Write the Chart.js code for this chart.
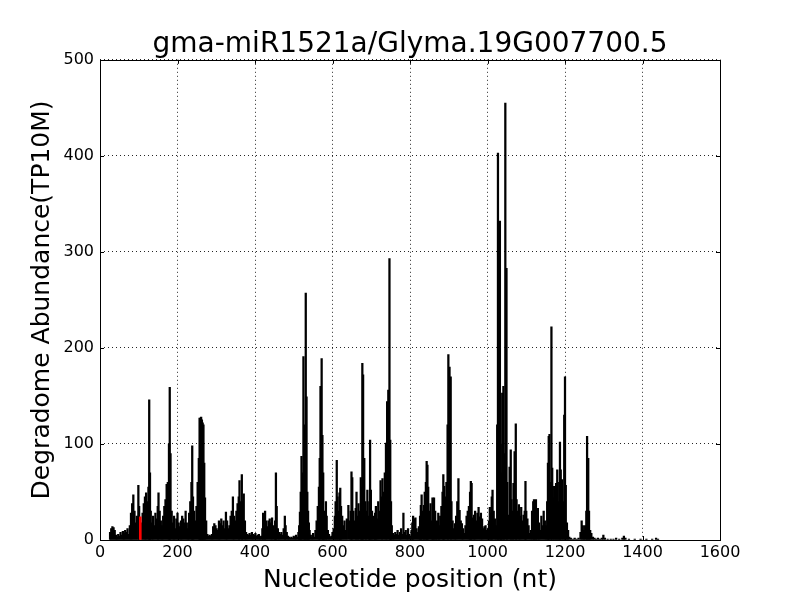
<!DOCTYPE html>
<html>
<head>
<meta charset="utf-8">
<script src="https://cdn.jsdelivr.net/npm/chart.js@4"></script>
<style>
  body { margin: 0; background: #fff; }
  canvas { display: block; }
</style>
</head>
<body>
<canvas id="degradomeChart" width="800" height="600"></canvas>
<script>
// nucleotide positions and abundance (TP10M)
const positions = [
  26, 29, 32, 35, 38, 41, 44, 47, 50, 53, 56, 59, 62, 65, 68, 71, 74, 77, 80, 83,
  86, 89, 92, 95, 99, 101, 107, 110, 113, 116, 119, 122, 125, 127, 129, 131, 134, 137, 140, 143,
  146, 149, 151, 154, 157, 160, 163, 166, 169, 172, 175, 178, 180, 182, 185, 188, 191, 194, 197, 200,
  203, 206, 209, 212, 215, 218, 221, 224, 227, 230, 233, 236, 238, 240, 243, 246, 249, 252, 255, 257,
  259, 261, 263, 265, 267, 269, 271, 274, 277, 280, 283, 286, 289, 292, 295, 298, 301, 304, 307, 310,
  313, 316, 319, 322, 325, 328, 331, 334, 337, 340, 343, 346, 349, 352, 355, 358, 360, 363, 366, 368,
  371, 374, 377, 380, 383, 386, 389, 392, 395, 398, 401, 404, 407, 410, 413, 416, 419, 421, 424, 426,
  429, 432, 435, 438, 441, 444, 447, 450, 452, 454, 456, 459, 462, 465, 468, 471, 474, 477, 479, 482,
  485, 488, 491, 494, 497, 500, 503, 506, 509, 512, 514, 516, 518, 520, 522, 525, 527, 529, 531, 533,
  535, 537, 539, 541, 544, 547, 550, 553, 556, 559, 562, 565, 567, 569, 572, 574, 576, 578, 580, 583,
  585, 588, 591, 594, 597, 600, 603, 606, 608, 611, 613, 616, 618, 620, 622, 625, 628, 631, 634, 637,
  641, 644, 647, 649, 651, 654, 657, 660, 662, 665, 667, 670, 673, 675, 677, 679, 682, 685, 687, 690,
  693, 695, 697, 699, 702, 705, 708, 710, 712, 715, 718, 721, 724, 727, 729, 732, 735, 738, 741, 744,
  747, 749, 751, 753, 756, 759, 762, 765, 768, 771, 774, 777, 780, 783, 786, 789, 792, 795, 798, 801,
  804, 806, 808, 811, 814, 817, 820, 823, 826, 828, 830, 833, 836, 838, 841, 843, 845, 847, 850, 853,
  856, 858, 860, 862, 865, 867, 870, 873, 875, 878, 881, 884, 886, 888, 891, 894, 897, 899, 902, 905,
  907, 910, 913, 916, 919, 922, 925, 928, 931, 934, 937, 940, 943, 946, 949, 952, 955, 957, 959, 962,
  965, 968, 971, 974, 977, 980, 983, 986, 989, 992, 995, 998, 1001, 1004, 1006, 1009, 1011, 1013, 1016, 1019,
  1022, 1025, 1027, 1029, 1032, 1034, 1036, 1038, 1041, 1043, 1046, 1049, 1051, 1054, 1057, 1060, 1062, 1065, 1067, 1070,
  1073, 1075, 1078, 1081, 1084, 1087, 1090, 1093, 1096, 1098, 1100, 1103, 1106, 1109, 1112, 1115, 1118, 1120, 1122, 1125,
  1127, 1130, 1133, 1136, 1139, 1142, 1145, 1148, 1151, 1154, 1156, 1158, 1160, 1163, 1165, 1167, 1170, 1172, 1175, 1177,
  1180, 1182, 1185, 1187, 1189, 1192, 1195, 1198, 1200, 1202, 1205, 1208, 1211, 1215, 1220, 1225, 1230, 1235, 1240, 1243,
  1246, 1249, 1252, 1255, 1257, 1260, 1262, 1265, 1268, 1272, 1276, 1280, 1285, 1290, 1295, 1299, 1303, 1310, 1318, 1325,
  1332, 1340, 1348, 1352, 1356, 1365, 1380, 1395, 1410, 1425, 1435, 1440
];
const abundance = [
  8, 12, 14, 13, 10, 5, 3, 6, 4, 8, 5, 9, 7, 10, 8, 12, 6, 15, 28, 38,
  47, 30, 18, 25, 57, 35, 18, 28, 38, 45, 49, 40, 55, 146, 70, 30, 18, 25, 15, 28,
  22, 35, 49, 30, 20, 15, 25, 35, 42, 58, 60, 100, 159, 90, 30, 18, 25, 12, 22, 28,
  18, 14, 20, 25, 22, 18, 30, 18, 12, 28, 40, 60, 98, 45, 30, 20, 35, 60, 85, 127,
  127, 128, 125, 122, 120, 80, 44, 20, 6, 4, 5, 4, 6, 14, 17, 15, 12, 10, 20, 17,
  22, 15, 20, 12, 29, 20, 12, 15, 25, 30, 45, 25, 20, 30, 38, 45, 62, 40, 68, 40,
  48, 20, 8, 6, 5, 7, 5, 8, 6, 5, 7, 4, 5, 6, 3, 4, 12, 28, 22, 30,
  20, 14, 20, 22, 18, 23, 15, 10, 20, 70, 35, 12, 8, 6, 8, 5, 12, 25, 15, 8,
  4, 3, 2, 3, 2, 4, 3, 5, 3, 8, 15, 29, 50, 87, 70, 191, 120, 90, 257, 149,
  50, 30, 18, 10, 5, 3, 7, 3, 10, 20, 35, 55, 85, 160, 189, 109, 70, 30, 22, 40,
  25, 10, 6, 3, 4, 8, 12, 25, 40, 83, 45, 30, 49, 54, 35, 25, 15, 20, 10, 22,
  36, 20, 30, 71, 65, 30, 20, 33, 50, 25, 38, 30, 65, 55, 184, 172, 85, 40, 30, 52,
  25, 40, 104, 52, 30, 25, 20, 28, 35, 22, 40, 30, 62, 45, 64, 50, 70, 101, 144, 156,
  293, 104, 40, 15, 7, 5, 8, 6, 10, 5, 8, 12, 6, 28, 8, 10, 5, 12, 6, 4,
  10, 18, 25, 22, 23, 12, 8, 14, 25, 36, 47, 30, 36, 50, 60, 82, 78, 55, 30, 38,
  20, 44, 30, 44, 30, 15, 20, 28, 15, 25, 35, 50, 68, 56, 45, 60, 120, 193, 180, 170,
  40, 20, 12, 17, 25, 40, 64, 31, 20, 17, 12, 7, 15, 25, 30, 35, 50, 61, 59, 23,
  26, 30, 20, 28, 34, 24, 28, 22, 12, 14, 15, 10, 12, 20, 34, 28, 45, 52, 30, 22,
  15, 120, 403, 257, 332, 100, 70, 153, 160, 90, 455, 283, 60, 26, 76, 94, 42, 30, 59, 92,
  121, 42, 30, 37, 25, 34, 20, 26, 30, 61, 30, 22, 15, 7, 10, 30, 40, 42, 25, 42,
  22, 33, 18, 10, 25, 15, 30, 20, 15, 40, 80, 108, 110, 60, 222, 75, 44, 56, 54, 59,
  73, 40, 60, 102, 73, 63, 40, 130, 170, 57, 18, 10, 3, 2, 1, 2, 1, 2, 8, 20,
  15, 10, 15, 30, 108, 85, 30, 10, 7, 3, 2, 1, 2, 1, 2, 5, 2, 1, 1, 1,
  2, 1, 2, 4, 2, 1, 1, 1, 1, 1, 2, 1
];
// miRNA cleavage site (red)
const cleavePositions = [104];
const cleaveAbundance = [24];

const xTicks = [0, 200, 400, 600, 800, 1000, 1200, 1400, 1600];
const yTicks = [0, 100, 200, 300, 400, 500];

const FONT = "'DejaVu Sans', sans-serif";

// matplotlib style frame with inward ticks
const frameTicks = {
    id: "frameTicks",
    afterDraw(chart) {
        const { ctx, chartArea: a, scales } = chart;
        ctx.save();
        ctx.strokeStyle = "#000";
        ctx.lineWidth = 1;
        ctx.beginPath();
        xTicks.forEach((v) => {
            const px = Math.round(scales.x.getPixelForValue(v)) + 0.5;
            ctx.moveTo(px, a.bottom);
            ctx.lineTo(px, a.bottom - 4);
            ctx.moveTo(px, a.top);
            ctx.lineTo(px, a.top + 4);
        });
        yTicks.forEach((v) => {
            const py = Math.round(scales.y.getPixelForValue(v)) + 0.5;
            ctx.moveTo(a.left, py);
            ctx.lineTo(a.left + 4, py);
            ctx.moveTo(a.right, py);
            ctx.lineTo(a.right - 4, py);
        });
        ctx.stroke();
        ctx.strokeRect(
            Math.round(a.left) + 0.5,
            Math.round(a.top) + 0.5,
            Math.round(a.right - a.left),
            Math.round(a.bottom - a.top)
        );
        ctx.restore();
    },
};

const ctx = document.getElementById("degradomeChart").getContext("2d");
new Chart(ctx, {
    type: "bar",
    data: {
        datasets: [
            {
                label: "Degradome",
                data: positions.map((p, i) => ({ x: p, y: abundance[i] })),
                backgroundColor: "#000",
                barThickness: 1.6,
                order: 2,
            },
            {
                label: "Cleavage site",
                data: cleavePositions.map((p, i) => ({ x: p, y: cleaveAbundance[i] })),
                backgroundColor: "#ff0000",
                barThickness: 2,
                order: 1,
            },
        ],
    },
    options: {
        responsive: false,
        animation: false,
        layout: { padding: { right: 80 } },
        datasets: { bar: { grouped: false } },
        plugins: {
            legend: { display: false },
            tooltip: { enabled: false },
            title: {
                display: true,
                fullSize: false,
                text: "gma-miR1521a/Glyma.19G007700.5",
                color: "#000",
                font: { family: FONT, size: 28, weight: "normal", lineHeight: 1.1 },
                padding: { top: 29, bottom: 0 },
            },
        },
        scales: {
            x: {
                type: "linear",
                min: 0,
                max: 1600,
                offset: false,
                afterFit: (scale) => { scale.height = 60; },
                afterBuildTicks: (scale) => { scale.ticks = xTicks.map((v) => ({ value: v })); },
                ticks: {
                    color: "#000",
                    font: { family: FONT, size: 16 },
                    padding: 3,
                    maxRotation: 0,
                    callback: (v) => String(v),
                },
                grid: { color: "rgba(0,0,0,0.85)", lineWidth: 1, drawTicks: false, offset: false },
                border: { display: false, dash: [1, 3] },
                title: {
                    display: true,
                    text: "Nucleotide position (nt)",
                    color: "#000",
                    font: { family: FONT, size: 25 },
                    padding: { top: 0, bottom: 5 },
                },
            },
            y: {
                type: "linear",
                min: 0,
                max: 500,
                afterFit: (scale) => { scale.width = 100; },
                afterBuildTicks: (scale) => { scale.ticks = yTicks.map((v) => ({ value: v })); },
                ticks: {
                    color: "#000",
                    font: { family: FONT, size: 16 },
                    padding: 6,
                    callback: (v) => String(v),
                },
                grid: { color: "rgba(0,0,0,0.85)", lineWidth: 1, drawTicks: false },
                border: { display: false, dash: [1, 3] },
                title: {
                    display: true,
                    text: "Degradome Abundance(TP10M)",
                    color: "#000",
                    font: { family: FONT, size: 25 },
                    padding: { top: 27, bottom: 0 },
                },
            },
        },
    },
    plugins: [frameTicks],
});
</script>
</body>
</html>
